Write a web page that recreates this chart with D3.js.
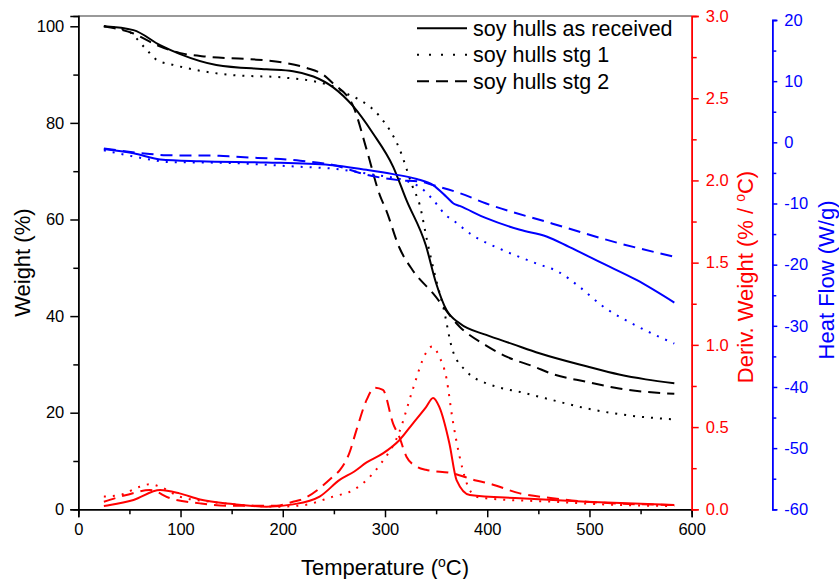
<!DOCTYPE html>
<html>
<head>
<meta charset="utf-8">
<script src="https://cdn.jsdelivr.net/npm/d3@7"></script>
<style>
  body { margin: 0; background: #fff; }
  text { font-family: 'Liberation Sans', Arial, sans-serif; }
</style>
</head>
<body>
<svg id="chart" width="839" height="579"></svg>
<script>
// TGA / DSC curves, [temperature °C, value]
const weightReceived = [[25,100],[54,99.2],[80,96.1],[99,94.3],[135,92.0],[184,91.1],[210,90.7],[230,89.6],[249,87.4],[269,83.4],[288,77.9],[308,70.9],[321,64.0],[340,54.6],[350,46.8],[360,41.3],[373,38.5],[399,36.1],[425,34.2],[451,32.3],[497,29.6],[529,27.9],[555,26.9],[583,26.1]]
const weightStg1 = [[25,100],[47,99.2],[67,95.1],[77,93.0],[93,92.0],[119,90.8],[151,89.9],[200,89.4],[233,88.5],[249,87.6],[265,85.8],[275,84.8],[295,81.3],[314,74.7],[327,66.8],[334,63.0],[341,55.8],[350,47.5],[357,41.9],[366,33.0],[380,28.5],[399,26.1],[412,25.2],[432,24.3],[451,23.3],[464,22.6],[497,20.9],[529,19.7],[583,18.6]]
const weightStg2 = [[25,100],[54,98.5],[77,96.1],[99,94.5],[126,93.7],[168,93.2],[200,92.5],[223,91.4],[240,89.9],[249,88.2],[269,83.4],[282,74.5],[295,65.0],[301,62.0],[314,54.2],[327,49.5],[347,44.7],[373,37.8],[399,33.9],[420,31.5],[445,29.6],[464,28.0],[497,26.4],[529,25.0],[583,23.9]]

const heatReceived = [[25,-1.1],[54,-1.8],[80,-2.8],[119,-3.1],[184,-3.3],[246,-3.7],[282,-4.5],[308,-5.2],[331,-6.0],[347,-7.0],[360,-8.9],[367,-10.0],[373,-10.4],[399,-12.4],[432,-14.3],[458,-15.4],[480,-17.1],[513,-19.8],[546,-22.5],[583,-26.2]]
const heatStg1 = [[25,-1.3],[70,-2.8],[86,-3.2],[152,-3.4],[217,-4.0],[249,-4.3],[282,-5.1],[327,-6.7],[334,-7.3],[347,-9.4],[360,-12.0],[367,-12.8],[383,-14.9],[415,-17.6],[448,-19.8],[470,-21.2],[490,-23.6],[513,-26.8],[546,-30.0],[583,-32.9]]
const heatStg2 = [[25,-1.0],[70,-1.9],[86,-2.1],[138,-2.2],[152,-2.35],[217,-3.0],[249,-3.7],[282,-5.3],[314,-6.2],[334,-6.4],[347,-7.0],[373,-8.3],[399,-10.0],[464,-13.3],[529,-16.5],[583,-18.7]]

const derivReceived = [[25,0.02],[31,0.026],[54,0.057],[80,0.117],[99,0.097],[119,0.06],[151,0.032],[184,0.016],[210,0.03],[236,0.077],[256,0.18],[270,0.23],[282,0.285],[298,0.34],[314,0.42],[327,0.52],[340,0.62],[347,0.677],[353,0.624],[363,0.40],[370,0.178],[383,0.087],[432,0.067],[497,0.046],[583,0.026]]
const derivStg1 = [[25,0.077],[41,0.087],[60,0.137],[70,0.152],[80,0.137],[99,0.077],[129,0.046],[161,0.026],[194,0.016],[220,0.025],[249,0.077],[269,0.117],[282,0.178],[295,0.27],[314,0.47],[327,0.726],[340,0.95],[346,0.99],[353,0.93],[360,0.80],[366,0.55],[373,0.32],[380,0.158],[389,0.077],[399,0.067],[464,0.046],[529,0.026],[583,0.02]]
const derivStg2 = [[25,0.046],[47,0.087],[70,0.117],[90,0.067],[119,0.036],[145,0.022],[194,0.022],[210,0.046],[217,0.057],[249,0.198],[256,0.24],[265,0.34],[272,0.48],[282,0.665],[290,0.74],[298,0.726],[308,0.52],[314,0.44],[321,0.32],[331,0.26],[340,0.24],[366,0.219],[389,0.175],[400,0.16],[432,0.097],[464,0.067],[497,0.046],[583,0.026]]

const legendNames = ['soy hulls as received', 'soy hulls stg 1', 'soy hulls stg 2']
const xTicks = [0, 100, 200, 300, 400, 500, 600]
const weightTicks = [0, 20, 40, 60, 80, 100]
const derivTicks = [0, 0.5, 1.0, 1.5, 2.0, 2.5, 3.0]
const heatTicks = [-60, -50, -40, -30, -20, -10, 0, 10, 20]

const plotLeft = 78.3, plotRight = 691.7, plotTop = 16, plotBottom = 509.3
const blueX = 772.3

const svg = d3.select('#chart')

const xScale = d3.scaleLinear().domain([0, 600]).range([plotLeft, plotRight])
const yWeight = d3.scaleLinear().domain([0, 102.13]).range([plotBottom, plotTop])
const yDeriv = d3.scaleLinear().domain([0, 3]).range([plotBottom, plotTop])
const yHeat = d3.scaleLinear().domain([-60, 20]).range([plotBottom, 20])

const dashes = [null, '2,7', '12,7']

const series = [
  { data: weightReceived, y: yWeight, color: '#000', style: 0 },
  { data: weightStg1, y: yWeight, color: '#000', style: 1 },
  { data: weightStg2, y: yWeight, color: '#000', style: 2 },
  { data: heatReceived, y: yHeat, color: '#0000ff', style: 0 },
  { data: heatStg1, y: yHeat, color: '#0000ff', style: 1 },
  { data: heatStg2, y: yHeat, color: '#0000ff', style: 2 },
  { data: derivReceived, y: yDeriv, color: '#ff0000', style: 0 },
  { data: derivStg1, y: yDeriv, color: '#ff0000', style: 1 },
  { data: derivStg2, y: yDeriv, color: '#ff0000', style: 2 },
]

const lineGroup = svg.append('g')

series.forEach(s => {
  const line = d3.line()
    .x(d => xScale(d[0]))
    .y(d => s.y(d[1]))
    .curve(d3.curveMonotoneX)
  lineGroup.append('path')
    .datum(s.data)
    .attr('d', line)
    .attr('fill', 'none')
    .attr('stroke', s.color)
    .attr('stroke-width', 2)
    .attr('stroke-dasharray', dashes[s.style])
})

// top frame line
svg.append('line')
  .attr('x1', plotLeft).attr('x2', plotRight)
  .attr('y1', plotTop).attr('y2', plotTop)
  .attr('stroke', '#777')
  .attr('stroke-width', 1.5)

function styleAxis(g, color, size) {
  g.select('.domain').attr('stroke', color).attr('stroke-width', 1.5)
  g.selectAll('.tick line').attr('stroke', color).attr('stroke-width', 1.5)
  g.selectAll('.tick text').attr('fill', color).attr('font-size', size)
    .attr('font-family', "'Liberation Sans', Arial, sans-serif")
}

function minor(values, step) {
  const out = []
  for (let i = 0; i < values.length - 1; i++) out.push(values[i] + step)
  return out
}

// bottom axis
svg.append('g')
  .attr('transform', `translate(0, ${plotBottom})`)
  .call(d3.axisBottom(xScale).tickValues(minor(xTicks, 50)).tickSize(5).tickFormat(''))
  .call(g => styleAxis(g, '#000', 16.5))
svg.append('g')
  .attr('transform', `translate(0, ${plotBottom})`)
  .call(d3.axisBottom(xScale).tickValues(xTicks).tickSize(8).tickPadding(6).tickFormat(d => String(d)))
  .call(g => styleAxis(g, '#000', 16.5))

// left axis
svg.append('g')
  .attr('transform', `translate(${plotLeft}, 0)`)
  .call(d3.axisLeft(yWeight).tickValues(minor(weightTicks, 10)).tickSize(5).tickFormat(''))
  .call(g => styleAxis(g, '#000', 16.5))
svg.append('g')
  .attr('transform', `translate(${plotLeft}, 0)`)
  .call(d3.axisLeft(yWeight).tickValues(weightTicks).tickSize(8).tickPadding(6).tickFormat(d => String(d)))
  .call(g => styleAxis(g, '#000', 16.5))

// red axis
svg.append('g')
  .attr('transform', `translate(${plotRight}, 0)`)
  .call(d3.axisRight(yDeriv).tickValues(minor(derivTicks, 0.25)).tickSize(5).tickFormat(''))
  .call(g => styleAxis(g, '#ff0000', 16.5))
svg.append('g')
  .attr('transform', `translate(${plotRight}, 0)`)
  .call(d3.axisRight(yDeriv).tickValues(derivTicks).tickSize(7).tickPadding(7).tickFormat(d => d.toFixed(1)))
  .call(g => styleAxis(g, '#ff0000', 16.5))

// blue axis, plain hyphen for negatives like the original
svg.append('g')
  .attr('transform', `translate(${blueX}, 0)`)
  .call(d3.axisRight(yHeat).tickValues(minor(heatTicks, 5)).tickSize(4).tickFormat(''))
  .call(g => styleAxis(g, '#0000ff', 16.5))
svg.append('g')
  .attr('transform', `translate(${blueX}, 0)`)
  .call(d3.axisRight(yHeat).tickValues(heatTicks).tickSize(5).tickPadding(7).tickFormat(d => String(d)))
  .call(g => styleAxis(g, '#0000ff', 16.5))

// axis titles
const xTitle = svg.append('text')
  .attr('x', (plotLeft + plotRight) / 2)
  .attr('y', 575)
  .attr('text-anchor', 'middle')
  .attr('font-size', 22)
xTitle.append('tspan').text('Temperature (')
xTitle.append('tspan').attr('font-size', 14).attr('dy', -8).text('o')
xTitle.append('tspan').attr('dy', 8).text('C)')

svg.append('text')
  .attr('transform', `translate(30, ${(plotTop + plotBottom) / 2}) rotate(-90)`)
  .attr('text-anchor', 'middle')
  .attr('font-size', 22)
  .text('Weight (%)')

const redTitle = svg.append('text')
  .attr('transform', `translate(753, 277) rotate(-90)`)
  .attr('text-anchor', 'middle')
  .attr('font-size', 22)
  .attr('fill', '#ff0000')
redTitle.append('tspan').text('Deriv. Weight (% / ')
redTitle.append('tspan').attr('font-size', 14).attr('dy', -8).text('o')
redTitle.append('tspan').attr('dy', 8).text('C)')

svg.append('text')
  .attr('transform', `translate(834, 280) rotate(-90)`)
  .attr('text-anchor', 'middle')
  .attr('font-size', 22)
  .attr('fill', '#0000ff')
  .text('Heat Flow (W/g)')

// legend
const legend = svg.append('g')
legendNames.forEach((name, i) => {
  const y = 28.3 + i * 26.5
  legend.append('line')
    .attr('x1', 417).attr('x2', 467)
    .attr('y1', y).attr('y2', y)
    .attr('stroke', '#000')
    .attr('stroke-width', 2)
    .attr('stroke-dasharray', i === 1 ? '2,10' : dashes[i])
  legend.append('text')
    .attr('x', 473)
    .attr('y', y + 7.5)
    .attr('font-size', 21.5)
    .text(name)
})
</script>
</body>
</html>
